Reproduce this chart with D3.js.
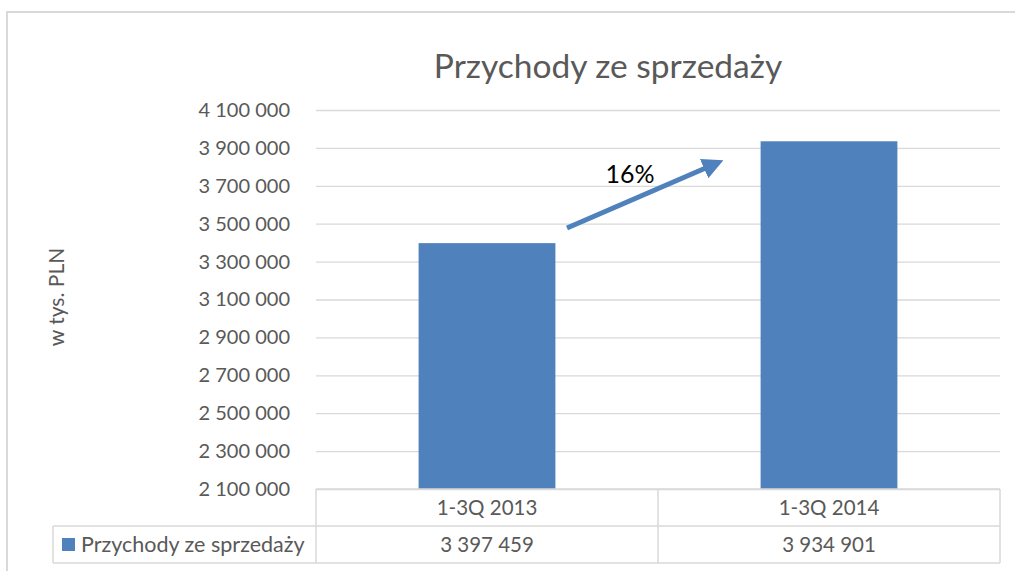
<!DOCTYPE html>
<html><head><meta charset="utf-8">
<script src="https://cdn.jsdelivr.net/npm/d3@7"></script>
<style>body{margin:0;background:#fff}svg{display:block}text{font-family:Lato,"Open Sans",sans-serif}</style>
</head><body>
<svg id="c" width="1015" height="571"></svg>
<script>
const categories = ["1-3Q 2013", "1-3Q 2014"];
const values = [3397459, 3934901];
const seriesName = "Przychody ze sprzedaży";
const tickValues = [2100000, 2300000, 2500000, 2700000, 2900000, 3100000, 3300000, 3500000, 3700000, 3900000, 4100000];
const title = "Przychody ze sprzedaży";
const yLabel = "w tys. PLN";
const growthLabel = "16%";

const svg = d3.select("#c");
const fmt = v => d3.format(",")(v).replace(/,/g, " ");
const grey = "#595959", gridC = "#d9d9d9", barC = "#4f81bd";

// outer border
svg.append("rect").attr("x", 7).attr("y", 12).attr("width", 1030).attr("height", 600)
  .attr("fill", "none").attr("stroke", gridC).attr("stroke-width", 2);

const L = 316, R = 1000, T = 110, B = 489;
const x = d3.scaleBand().domain(categories).range([L, R]).paddingInner(0.6).paddingOuter(0.3);
const xb = d3.scaleBand().domain(categories).range([L, R]);
const y = d3.scaleLinear().domain([2100000, 4100000]).range([B, T]);

// gridlines
const ax = d3.axisLeft(y).tickValues(tickValues).tickSize(-(R - L)).tickFormat(fmt).tickPadding(26);
const g = svg.append("g").attr("transform", `translate(${L},0)`).call(ax);
g.select(".domain").remove();
g.selectAll(".tick line").attr("stroke", gridC).attr("stroke-width", 1.3);
g.selectAll(".tick text").attr("fill", grey).style("font-size", "20px").style("font-family", "Lato");

// bars
svg.append("g").selectAll("rect").data(values).join("rect")
  .attr("x", (d, i) => x(categories[i])).attr("width", x.bandwidth())
  .attr("y", d => y(d)).attr("height", d => B - y(d)).attr("fill", barC);

// title
svg.append("text").attr("x", 608).attr("y", 78).attr("text-anchor", "middle")
  .attr("fill", grey).style("font-size", "33.5px").text(title);

// y label
svg.append("text").attr("transform", "translate(64,297) rotate(-90)").attr("text-anchor", "middle")
  .attr("fill", grey).style("font-size", "21px").text(yLabel);

// arrow
const defs = svg.append("defs");
defs.append("marker").attr("id", "ah").attr("viewBox", "0 0 10 10").attr("refX", 2).attr("refY", 5)
  .attr("markerWidth", 4.2).attr("markerHeight", 4.2).attr("orient", "auto")
  .append("path").attr("d", "M0,0 L10,5 L0,10 Z").attr("fill", barC);
const ax0 = 567, ay0 = 228, ax1 = 708, ay1 = 167;
svg.append("line").attr("x1", ax0).attr("y1", ay0).attr("x2", ax1).attr("y2", ay1)
  .attr("stroke", barC).attr("stroke-width", 5).attr("marker-end", "url(#ah)");
svg.append("text").attr("x", 630).attr("y", 183).attr("text-anchor", "middle")
  .attr("fill", "#000").style("font-size", "25px").text(growthLabel);

// data table
const rowH = 37, r1 = B, r2 = B + rowH, r3 = B + 2 * rowH, legL = 53;
const tg = svg.append("g").attr("stroke", gridC).attr("stroke-width", 1.5).attr("fill", "none");
tg.append("line").attr("x1", L).attr("x2", R).attr("y1", r1).attr("y2", r1);
tg.append("line").attr("x1", legL).attr("x2", R).attr("y1", r2).attr("y2", r2);
tg.append("line").attr("x1", legL).attr("x2", R).attr("y1", r3).attr("y2", r3);
tg.append("line").attr("x1", legL).attr("x2", legL).attr("y1", r2).attr("y2", r3);
[L, ...categories.map(c => xb(c) + xb.bandwidth())].forEach(v =>
  tg.append("line").attr("x1", v).attr("x2", v).attr("y1", r1).attr("y2", r3));

svg.append("g").selectAll("text").data(categories).join("text")
  .attr("x", d => xb(d) + xb.bandwidth() / 2).attr("y", r1 + rowH / 2 + 7).attr("text-anchor", "middle")
  .attr("fill", grey).style("font-size", "20.5px").text(d => d);
svg.append("g").selectAll("text").data(values).join("text")
  .attr("x", (d, i) => xb(categories[i]) + xb.bandwidth() / 2).attr("y", r2 + rowH / 2 + 7).attr("text-anchor", "middle")
  .attr("fill", grey).style("font-size", "20.5px").text(d => fmt(d));

svg.append("rect").attr("x", 62).attr("y", r2 + 12).attr("width", 13).attr("height", 13).attr("fill", barC);
svg.append("text").attr("x", 81).attr("y", r2 + rowH / 2 + 7).attr("fill", grey)
  .style("font-size", "21.5px").text(seriesName);
</script>
</body></html>
